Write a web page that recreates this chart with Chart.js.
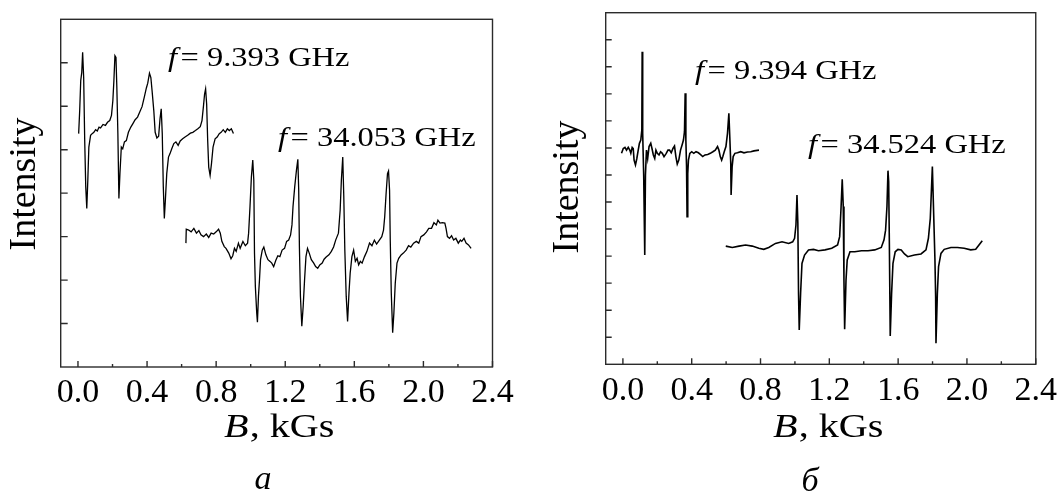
<!DOCTYPE html>
<html>
<head>
<meta charset="utf-8">
<script src="https://cdn.jsdelivr.net/npm/chart.js@4.4.1/dist/chart.umd.min.js"></script>
<style>
  html, body { margin: 0; padding: 0; background: #fff; }
  #wrap { position: relative; width: 1063px; height: 493px; overflow: hidden; }
  canvas { position: absolute; top: 0; }
</style>
</head>
<body>
<div id="wrap">
  <canvas id="panelA" width="531" height="493" style="left:0;width:531px;height:493px"></canvas>
  <canvas id="panelB" width="532" height="493" style="left:531px;width:532px;height:493px"></canvas>
</div>
<script>
// panel а, f = 9.393 GHz : field B (kGs) and intensity (arb. units)
const a1B = [0.004,0.010,0.016,0.022,0.027,0.033,0.039,0.045,0.051,0.057,0.063,0.073,0.082,0.092,0.102,0.112,0.122,0.131,0.145,0.159,0.171,0.184,0.194,0.202,0.208,0.214,0.220,0.225,0.231,0.237,0.243,0.251,0.259,0.269,0.280,0.292,0.306,0.318,0.331,0.345,0.357,0.371,0.384,0.396,0.404,0.414,0.422,0.429,0.439,0.447,0.457,0.467,0.475,0.482,0.488,0.494,0.500,0.506,0.514,0.524,0.533,0.543,0.555,0.567,0.580,0.592,0.606,0.620,0.635,0.651,0.665,0.680,0.694,0.708,0.718,0.727,0.733,0.739,0.745,0.751,0.757,0.765,0.773,0.782,0.794,0.806,0.818,0.829,0.841,0.853,0.865,0.876,0.888,0.900];
const a1I = [5.37,5.90,6.59,6.78,7.24,6.66,5.21,4.15,3.65,4.30,5.06,5.33,5.37,5.40,5.46,5.43,5.52,5.50,5.58,5.56,5.63,5.67,5.79,6.13,6.59,7.16,7.12,6.44,5.37,3.88,4.45,5.06,5.02,5.18,5.21,5.40,5.52,5.60,5.69,5.75,5.86,5.99,6.21,6.42,6.53,6.76,6.66,6.36,5.90,5.40,5.27,5.31,5.71,5.94,5.37,4.15,3.42,3.84,4.45,4.83,4.91,5.02,5.14,5.18,5.10,5.20,5.25,5.29,5.33,5.38,5.40,5.44,5.48,5.53,5.67,6.02,6.28,6.40,6.05,5.21,4.60,4.41,4.68,5.06,5.25,5.29,5.37,5.40,5.46,5.40,5.48,5.44,5.48,5.37];

// panel а, f = 34.053 GHz
const a2B = [0.625,0.627,0.641,0.655,0.671,0.686,0.700,0.712,0.727,0.743,0.757,0.771,0.786,0.800,0.814,0.824,0.833,0.847,0.857,0.873,0.886,0.896,0.906,0.916,0.929,0.939,0.955,0.969,0.982,0.988,0.996,1.004,1.012,1.018,1.022,1.027,1.035,1.039,1.045,1.051,1.057,1.067,1.076,1.088,1.100,1.112,1.122,1.133,1.145,1.157,1.169,1.182,1.196,1.208,1.220,1.231,1.239,1.245,1.255,1.265,1.273,1.278,1.282,1.288,1.296,1.304,1.312,1.320,1.329,1.339,1.351,1.365,1.376,1.388,1.400,1.414,1.425,1.437,1.453,1.467,1.480,1.492,1.508,1.518,1.525,1.533,1.539,1.545,1.553,1.561,1.569,1.576,1.586,1.596,1.606,1.616,1.625,1.635,1.645,1.659,1.673,1.688,1.702,1.716,1.729,1.745,1.759,1.769,1.776,1.784,1.792,1.798,1.804,1.808,1.814,1.822,1.829,1.837,1.847,1.857,1.871,1.884,1.900,1.914,1.927,1.943,1.959,1.973,1.986,2.002,2.018,2.031,2.047,2.061,2.075,2.084,2.096,2.110,2.124,2.131,2.139,2.151,2.163,2.175,2.188,2.202,2.214,2.222,2.235,2.247,2.261,2.276];
const a2I = [2.85,3.17,3.15,3.11,3.19,3.08,3.14,3.04,3.00,3.06,2.98,3.08,3.06,3.11,3.17,3.08,2.89,2.77,2.73,2.62,2.49,2.56,2.73,2.66,2.85,2.73,2.89,2.79,2.85,3.08,3.69,4.37,4.76,4.30,2.62,1.85,1.24,1.03,1.63,2.01,2.47,2.69,2.76,2.58,2.47,2.43,2.39,2.31,2.45,2.56,2.54,2.69,2.73,2.89,2.92,3.04,3.27,3.69,4.15,4.53,4.78,4.07,2.77,1.63,0.94,1.40,2.01,2.54,2.73,2.62,2.47,2.39,2.31,2.27,2.35,2.39,2.48,2.53,2.58,2.66,2.76,2.92,3.08,3.61,4.30,4.83,3.92,2.69,1.63,1.05,1.70,2.16,2.54,2.69,2.43,2.50,2.35,2.43,2.39,2.54,2.66,2.85,2.79,2.92,2.83,2.92,3.00,3.15,3.46,3.99,4.45,4.51,4.07,2.92,1.70,0.79,1.24,1.93,2.39,2.50,2.58,2.62,2.69,2.79,2.76,2.85,2.89,2.85,3.00,3.04,3.11,3.19,3.19,3.32,3.27,3.38,3.31,3.32,3.31,3.19,3.00,2.96,3.02,2.92,2.96,2.85,2.92,2.89,2.96,2.85,2.81,2.73];

// panel б, f = 9.394 GHz
const b1B = [-0.008,0.002,0.012,0.021,0.031,0.040,0.046,0.054,0.060,0.065,0.073,0.081,0.089,0.096,0.104,0.110,0.112,0.115,0.121,0.127,0.131,0.137,0.144,0.152,0.162,0.169,0.177,0.185,0.192,0.200,0.210,0.219,0.229,0.239,0.252,0.262,0.271,0.281,0.291,0.300,0.308,0.316,0.325,0.335,0.344,0.352,0.358,0.362,0.366,0.370,0.373,0.377,0.381,0.389,0.400,0.412,0.425,0.439,0.450,0.464,0.477,0.493,0.508,0.523,0.537,0.550,0.558,0.566,0.574,0.581,0.589,0.599,0.608,0.616,0.622,0.627,0.629,0.635,0.641,0.651,0.666,0.685,0.704,0.724,0.743,0.762,0.791];
const b1I = [7.80,7.98,8.02,7.92,8.02,7.92,7.80,8.02,7.98,7.55,7.37,7.61,7.92,8.17,8.29,8.66,11.56,8.54,6.94,4.04,7.00,7.92,7.61,8.05,8.17,7.98,7.74,7.61,7.92,7.80,7.74,7.86,7.80,7.68,7.80,7.92,7.92,7.82,7.98,8.07,7.68,7.40,7.55,7.92,8.11,8.29,8.60,10.02,8.29,7.31,5.46,7.06,7.55,7.80,7.86,7.80,7.86,7.82,7.76,7.68,7.74,7.76,7.80,7.86,7.92,8.05,7.92,7.68,7.55,7.68,7.86,8.05,8.54,9.28,8.29,7.43,6.26,7.31,7.68,7.80,7.82,7.86,7.82,7.85,7.86,7.89,7.92];

// panel б, f = 34.524 GHz
const b2B = [0.598,0.636,0.675,0.713,0.752,0.790,0.819,0.848,0.887,0.925,0.964,0.987,0.998,1.006,1.012,1.017,1.021,1.025,1.033,1.041,1.056,1.079,1.108,1.137,1.175,1.214,1.248,1.260,1.268,1.275,1.281,1.285,1.289,1.297,1.304,1.320,1.348,1.387,1.425,1.464,1.502,1.518,1.527,1.535,1.541,1.545,1.549,1.553,1.554,1.562,1.570,1.583,1.599,1.618,1.637,1.656,1.695,1.733,1.762,1.776,1.787,1.799,1.807,1.814,1.818,1.820,1.828,1.835,1.849,1.868,1.907,1.945,1.984,2.022,2.051,2.070,2.089];
const b2I = [4.37,4.32,4.37,4.41,4.37,4.29,4.25,4.32,4.47,4.53,4.47,4.53,4.66,5.15,6.26,5.21,2.62,1.27,2.62,3.73,4.04,4.23,4.25,4.20,4.23,4.29,4.41,4.72,5.77,6.84,5.83,3.12,1.30,3.12,3.86,4.16,4.16,4.20,4.20,4.23,4.32,4.60,4.96,5.83,7.16,6.75,4.47,1.76,1.05,2.62,3.73,4.16,4.25,4.23,4.08,3.98,4.04,4.08,4.23,4.66,5.40,7.31,5.46,3.86,2.50,0.78,2.62,3.61,4.10,4.25,4.32,4.32,4.29,4.23,4.25,4.41,4.57];

// tick positions on the unlabeled intensity axes
const yTicksA = [1, 2, 3, 4, 5, 6, 7];
const yTicksB = [1, 2, 3, 4, 5, 6, 7, 8, 9, 10, 11, 12];

const SERIF = "'Liberation Serif', 'Times New Roman', serif";

// draws text pieces one after another, [text, font, gapAfter]
function drawRuns(ctx, x, y, parts, sx) {
    ctx.save();
    ctx.translate(x, y);
    ctx.scale(sx, 1);
    let cx = 0;
    parts.forEach(([txt, font, gap]) => {
        ctx.font = font;
        ctx.fillText(txt, cx, 0);
        cx += ctx.measureText(txt).width + (gap || 0);
    });
    ctx.restore();
}

// box, inward tick marks and the texts of each panel
const frame = {
    id: 'frame',
    afterDraw(chart, args, o) {
        const { ctx, chartArea: a, scales: { x, y } } = chart;
        ctx.save();
        ctx.strokeStyle = '#2b2b2b';
        ctx.lineWidth = 1.4;
        ctx.strokeRect(a.left, a.top, a.right - a.left, a.bottom - a.top);
        ctx.beginPath();
        x.ticks.forEach(t => {
            const px = x.getPixelForValue(t.value);
            const len = t.label ? 6 : 3;
            ctx.moveTo(px, a.bottom);
            ctx.lineTo(px, a.bottom - len);
        });
        o.yTicks.forEach(v => {
            const py = y.getPixelForValue(v);
            ctx.moveTo(a.left, py);
            ctx.lineTo(a.left + o.yTickLen, py);
        });
        ctx.stroke();

        ctx.fillStyle = '#000';
        ctx.textBaseline = 'alphabetic';

        // Intensity
        ctx.save();
        ctx.translate(o.intensity[0], o.intensity[1]);
        ctx.rotate(-Math.PI / 2);
        ctx.textAlign = 'center';
        ctx.font = '38px ' + SERIF;
        ctx.fillText('Intensity', 0, 0);
        ctx.restore();

        ctx.textAlign = 'left';
        drawRuns(ctx, o.axisTitle[0], o.axisTitle[1],
            [['B', 'italic 34px ' + SERIF, 1], [', kGs', '34px ' + SERIF]], 1.18);

        o.notes.forEach(([txt, nx, ny]) => {
            drawRuns(ctx, nx, ny,
                [['f', 'italic 28px ' + SERIF, 3], ['= ' + txt, '28px ' + SERIF]], 1.16);
        });

        ctx.textAlign = 'center';
        ctx.font = 'italic 34px ' + SERIF;
        ctx.fillText(o.letter[0], o.letter[1], o.letter[2]);
        ctx.restore();
    }
};

function makePanel(id, traces, yMax, pad, lineW, opts) {
    return new Chart(document.getElementById(id), {
        type: 'line',
        data: {
            datasets: traces.map(([bs, vs]) => ({
                data: bs.map((b, i) => ({ x: b, y: vs[i] })),
                borderColor: '#000',
                borderWidth: lineW,
                pointRadius: 0,
                tension: 0,
                fill: false
            }))
        },
        options: {
            responsive: false,
            animation: false,
            devicePixelRatio: 1,
            layout: { padding: pad },
            plugins: {
                legend: { display: false },
                tooltip: { enabled: false },
                frame: opts
            },
            scales: {
                x: {
                    type: 'linear',
                    min: -0.1,
                    max: 2.4,
                    afterFit: s => { s.height = 40; },
                    grid: { display: false, drawTicks: false },
                    border: { display: false },
                    ticks: {
                        stepSize: 0.2,
                        includeBounds: false,
                        autoSkip: false,
                        maxRotation: 0,
                        padding: 6,
                        color: '#000',
                        font: { family: SERIF, size: 34 },
                        callback: v => Math.round(v * 10) % 4 === 0 ? v.toFixed(1) : ''
                    }
                },
                y: { display: false, min: 0, max: yMax }
            }
        },
        plugins: [frame]
    });
}

makePanel('panelA', [[a1B, a1I], [a2B, a2I]], 8,
    { left: 60.7, right: 38.5, top: 19.3, bottom: 86 }, 1.3, {
        yTicks: yTicksA, yTickLen: 7,
        intensity: [35, 184],
        axisTitle: [224, 437],
        notes: [['9.393 GHz', 168, 66], ['34.053 GHz', 278, 146]],
        letter: ['а', 263, 489]
    });

makePanel('panelB', [[b1B, b1I], [b2B, b2I]], 13,
    { left: 74.7, right: 24.3, top: 12.7, bottom: 88.7 }, 1.6, {
        yTicks: yTicksB, yTickLen: 6,
        intensity: [47, 187],
        axisTitle: [242, 437],
        notes: [['9.394 GHz', 164, 79], ['34.524 GHz', 277, 153]],
        letter: ['б', 279, 491]
    });
</script>
</body>
</html>
